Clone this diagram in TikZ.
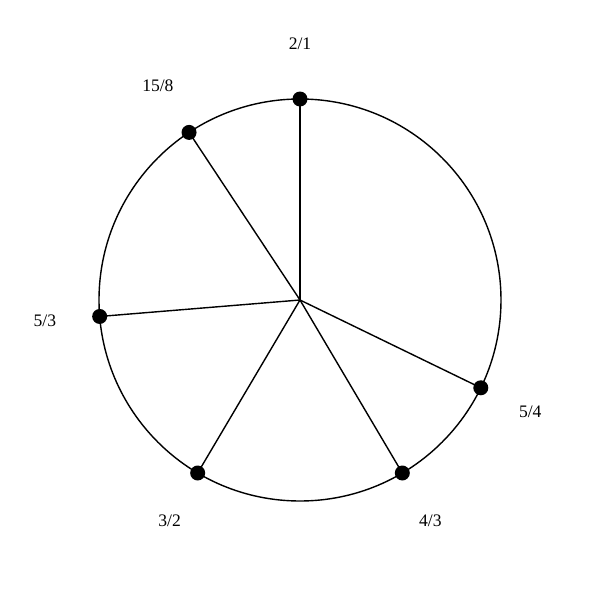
\documentclass[tikz,border=0pt]{standalone}
\usepackage{fontspec}
\setmainfont{Liberation Serif}
\tikzset{
	tone/.style={circle,fill=black,inner sep=0pt,minimum size=0.3cm},
	ratio/.style={font=\fontsize{10}{11}\selectfont}
}
\begin{document}
\begin{tikzpicture}[line width=0.8pt]
		\useasboundingbox (-6,-6) rectangle (6,6);
		\coordinate (o) at (0,0);
		\draw (o) circle (4.02);

		\node[tone] (oct) at (90:4.02) {};
		\node[tone] (maj7) at (123.5:4.02) {};
		\node[tone] (maj6) at (184.7:4.02) {};
		\node[tone] (fifth) at (239.4:4.02) {};
		\node[tone] (fourth) at (300.6:4.02) {};
		\node[tone] (maj3) at (334.1:4.02) {};

		\draw (o) -- (oct.center);
		\draw (o) -- (maj7.center);
		\draw (o) -- (maj6.center);
		\draw (o) -- (fifth.center);
		\draw (o) -- (fourth.center);
		\draw (o) -- (maj3.center);

		\node[ratio] at (90:5.12) {2/1};
		\node[ratio] at (123.5:5.15) {15/8};
		\node[ratio] at (184.7:5.12) {5/3};
		\node[ratio] at (239.4:5.12) {3/2};
		\node[ratio] at (300.6:5.12) {4/3};
		\node[ratio] at (334.1:5.12) {5/4};
	\end{tikzpicture}
\end{document}
